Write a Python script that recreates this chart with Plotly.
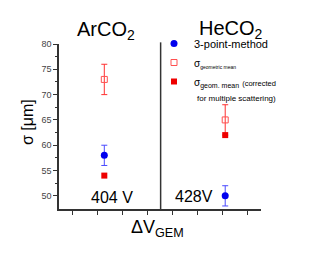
import plotly.graph_objects as go

# data
gases = ["ArCO2", "HeCO2"]
x_pos = [2.29, 7.12]
three_point = [58, 50]
three_point_err = [2, 2]
geo_mean = [73, 65]
geo_mean_err = [3, 3]
geo_mean_corr = [54, 62]
voltages = ["404 V", "428V"]
y_ticks = [50, 55, 60, 65, 70, 75, 80]

OFF = 8  # browser body margin
W, H = 331 - OFF, 256 - OFF
L, R, T, B = 59 - OFF, 70, 44 - OFF, 47
pw, ph = W - L - R, H - T - B
def px(x): return (x - OFF - L) / pw
def py(y): return (T + ph - (y - OFF)) / ph

fig = go.Figure()
fig.add_trace(go.Scatter(
    x=x_pos, y=three_point, mode="markers", name="3-point-method",
    marker=dict(symbol="circle", size=7, color="#0000ee"),
    error_y=dict(type="data", array=three_point_err, color="#4a4aff", thickness=1, width=3)))
fig.add_trace(go.Scatter(
    x=x_pos, y=geo_mean, mode="markers",
    name="<span style='font-size:10px'>σ</span><sub><span style='font-size:5px'>geometric mean</span></sub>",
    marker=dict(symbol="square-open", size=6, color="#ff5050", line=dict(width=1)),
    error_y=dict(type="data", array=geo_mean_err, color="#ff3030", thickness=1, width=3)))
fig.add_trace(go.Scatter(
    x=x_pos, y=geo_mean_corr, mode="markers",
    name="<span style='font-size:10px'>σ</span><sub><span style='font-size:7px'>geom. mean</span></sub> <span style='font-size:7.5px'>(corrected</span>",
    marker=dict(symbol="square", size=6, color="#ee0000")))

fig.add_shape(type="line", xref="x", yref="paper", x0=4.54, x1=4.54, y0=0, y1=1.01,
              line=dict(color="#333333", width=1.5))

ann = []
ann.append(dict(text="ArCO<sub>2</sub>", x=px(106), y=py(31), font=dict(size=20)))
ann.append(dict(text="HeCO<sub>2</sub>", x=px(231), y=py(30), font=dict(size=20)))
ann.append(dict(text=voltages[0], x=px(112), y=py(197), font=dict(size=16)))
ann.append(dict(text=voltages[1], x=px(194), y=py(196), font=dict(size=16)))
ann.append(dict(text="ΔV<sub>GEM</sub>", x=px(157), y=py(228), font=dict(size=18)))
ann.append(dict(text="σ [μm]", x=px(27), y=py(122), textangle=-90, font=dict(size=16)))
ann.append(dict(text="for multiple scattering)", x=px(195), y=py(98), xanchor="left",
                font=dict(size=8)))
for a in ann:
    a.setdefault("xanchor", "center")
    a.update(xref="paper", yref="paper", yanchor="middle", showarrow=False)
    a["font"].update(color="black", family="Liberation Sans, Arial")
fig.update_layout(annotations=ann)

fig.update_layout(
    width=W, height=H, margin=dict(l=L, r=R, t=T, b=B),
    paper_bgcolor="white", plot_bgcolor="white",
    font=dict(family="Liberation Sans, Arial", color="black"),
    showlegend=True,
    legend=dict(x=px(154), y=py(29), xanchor="left", yanchor="top",
                bgcolor="rgba(0,0,0,0)", font=dict(size=11), tracegroupgap=0,
                itemwidth=30),
    xaxis=dict(range=[0.48, 8.55], showgrid=False, zeroline=False, showline=True,
               linecolor="#333333", linewidth=1.5, ticks="outside", ticklen=4,
               tickcolor="#333333", tickvals=list(range(1, 9)), showticklabels=False),
    yaxis=dict(range=[47.4, 80], showgrid=False, zeroline=False, showline=True,
               linecolor="#333333", linewidth=1.5, ticks="outside", ticklen=4,
               tickcolor="#333333", tickvals=y_ticks, tickfont=dict(size=9, color="#444444"),
               minor=dict(tickvals=[52.5, 57.5, 62.5, 67.5, 72.5, 77.5], ticks="outside",
                          ticklen=2, tickcolor="#333333")),
)
fig.write_html("out.html")
